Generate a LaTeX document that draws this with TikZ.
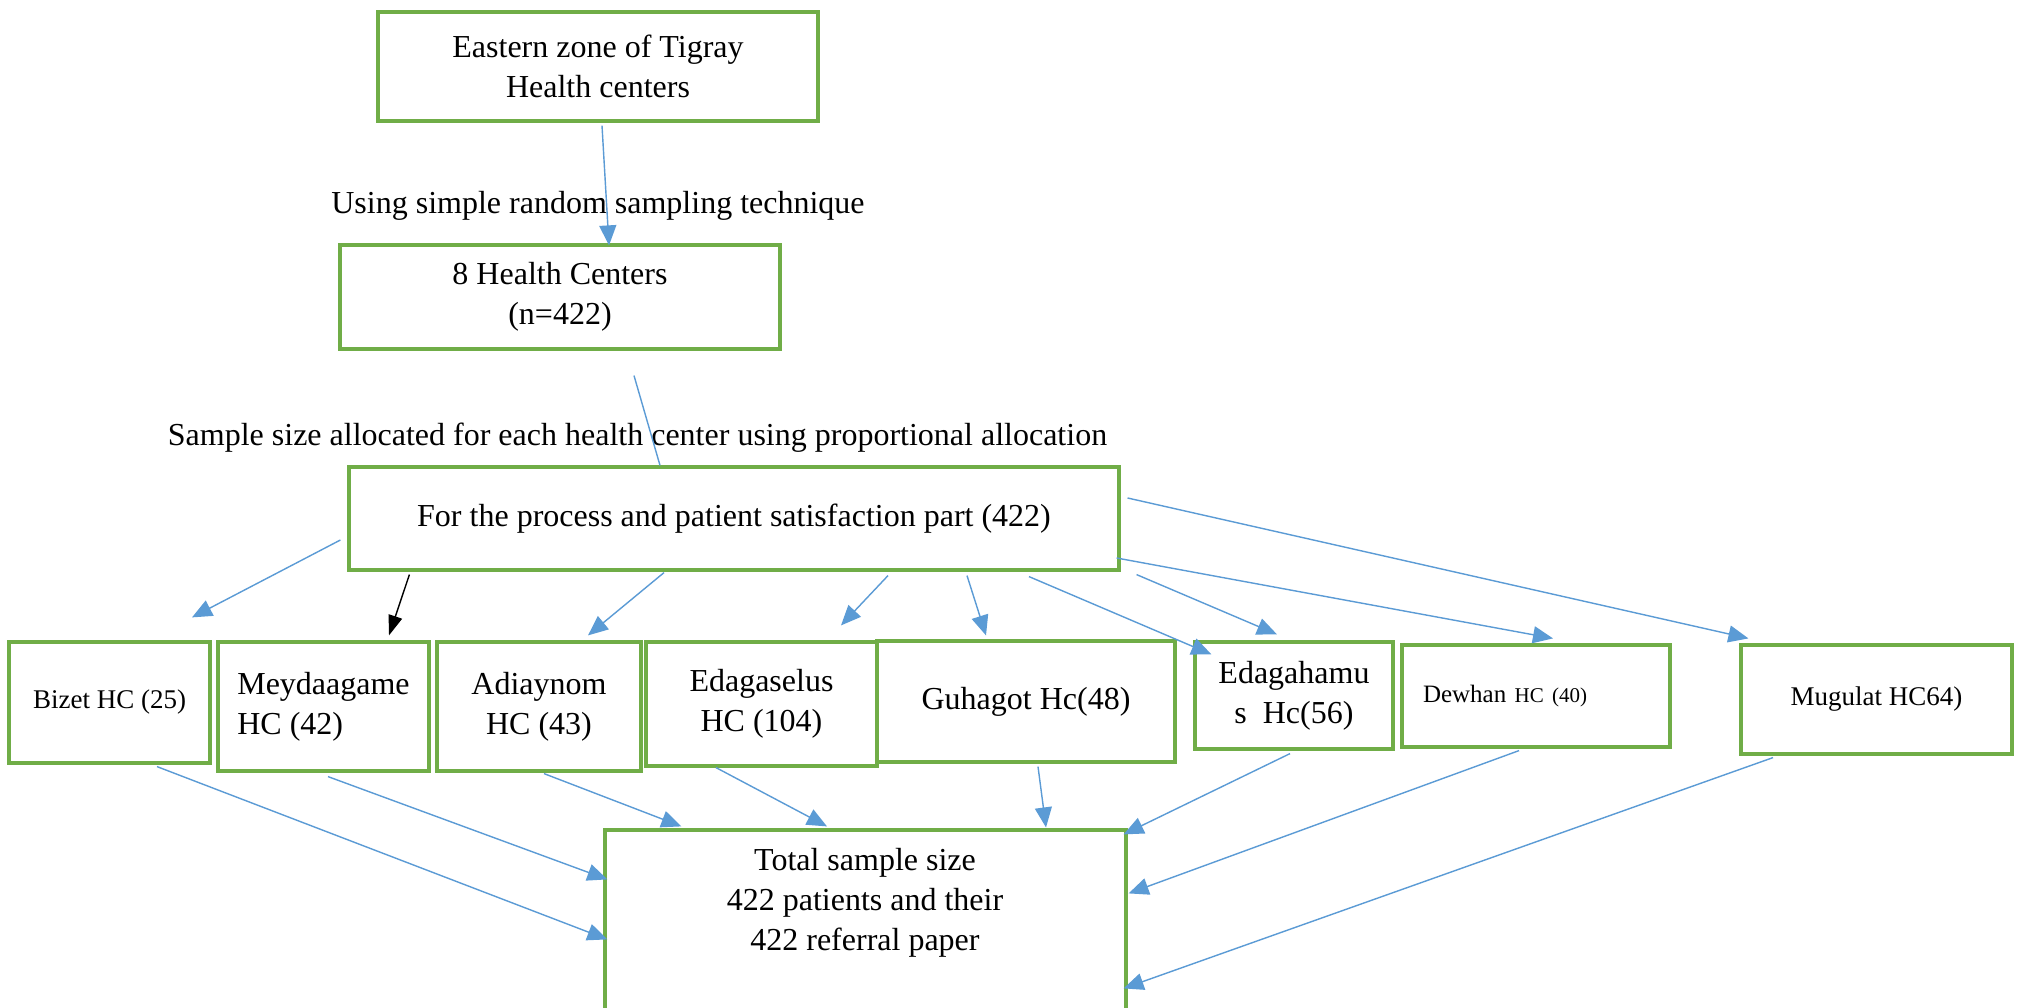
\documentclass[tikz,border=0pt]{standalone}
\usepackage{fontspec}
\setmainfont{Liberation Serif}
\usetikzlibrary{arrows.meta,calc}
\definecolor{boxgreen}{HTML}{70AD47}
\definecolor{arrowblue}{HTML}{5B9BD5}
\begin{document}
\begin{tikzpicture}[x=1pt,y=-1pt,
  box/.style={draw=boxgreen,line width=3.2pt,inner sep=0pt,align=center,font=\fontsize{32}{40}\selectfont},
  lbl/.style={inner sep=0pt,font=\fontsize{32}{40}\selectfont},
  arr/.style={draw=arrowblue,line width=1.4pt,-{Triangle[length=20pt,width=17pt]},fill=arrowblue},
  plain/.style={draw=arrowblue,line width=1.4pt},
  blk/.style={draw=black,line width=1.4pt,-{Triangle[length=20pt,width=14pt]}}]
\clip (0,0) rectangle (2022,1008);
\fill[white] (0,0) rectangle (2022,1008);

% boxes
\node[box,minimum width=440pt,minimum height=109pt] (top) at (598,66.5) {Eastern zone of Tigray\\Health centers};
\node[lbl] (lab1) at (598,206) {Using simple random sampling technique};
\node[box,minimum width=440pt,minimum height=104pt] (hc8) at (560,297) {8 Health Centers\\(n=422)};
\node[lbl] (lab2) at (637.5,438) {Sample size allocated for each health center using proportional allocation};
\node[box,minimum width=770pt,minimum height=103pt] (proc) at (734,518.5) {For the process and patient satisfaction part (422)};

\node[box,minimum width=201pt,minimum height=121pt,font=\fontsize{27}{34}\selectfont] (bizet) at (109.5,702.5) {Bizet HC (25)};
\node[box,minimum width=211pt,minimum height=129pt,align=left] (mey) at (323.5,706.5) {Meydaagame\\HC (42)};
\node[box,minimum width=204pt,minimum height=129pt] (adi) at (539,706.5) {Adiaynom\\HC (43)};
\node[box,minimum width=231pt,minimum height=124pt] (edas) at (761.5,704) {Edagaselus\\HC (104)};
\node[box,minimum width=298pt,minimum height=121pt] (guh) at (1026,701.5) {Guhagot Hc(48)};
\node[box,minimum width=198pt,minimum height=107pt] (edah) at (1294,695.5) {Edagahamu\\s~~Hc(56)};
\node[box,minimum width=268pt,minimum height=102pt,text width=226pt,align=left,font=\fontsize{25}{30}\selectfont] (dew) at (1536,696) {Dewhan \fontsize{21}{30}\selectfont HC~(40)};
\node[box,minimum width=271pt,minimum height=109pt,font=\fontsize{27}{34}\selectfont] (mug) at (1876.5,699.5) {Mugulat HC64)};

\node[box,minimum width=521pt,minimum height=200pt] (total) at (865.5,930) {};
\node[lbl,align=center] (totaltxt) at (865,903) {Total sample size\\422 patients and their\\422 referral paper};

% connectors top part
\draw[arr] ([shift={(4,3)}]top.south) -- ([shift={(49,2)}]hc8.north);
\draw[plain] ([shift={(74,25)}]hc8.south) -- ([shift={(-74,0)}]proc.north);

% proc to health centers
\draw[arr] ([shift={(-7,21.5)}]proc.west) -- ([shift={(82.5,-23)}]bizet.north);
\draw[blk] ([shift={(62,3)}]proc.south west) -- ([shift={(65.5,-5)}]mey.north);
\draw[arr] ([shift={(-70,1)}]proc.south) -- ([shift={(49,-5)}]adi.north);
\draw[arr] ([shift={(154,4)}]proc.south) -- ([shift={(79.5,-15)}]edas.north);
\draw[arr] ([shift={(233,4)}]proc.south) -- ([shift={(-40,-4)}]guh.north);
\draw[arr] ([shift={(295,5)}]proc.south) -- ([shift={(18,14)}]edah.north west);
\draw[arr] ([shift={(16,3)}]proc.south east) -- ([shift={(-17,-6)}]edah.north);
\draw[arr] ([shift={(-4,39.5)}]proc.east) -- ([shift={(17,-5)}]dew.north);
\draw[arr] ([shift={(7,-20.5)}]proc.east) -- ([shift={(9,-5)}]mug.north west);

% health centers to total
\draw[arr] ([shift={(47.5,2)}]bizet.south) -- ([shift={(4,111)}]total.north west);
\draw[arr] ([shift={(4.5,4)}]mey.south) -- ([shift={(4,51)}]total.north west);
\draw[arr] ([shift={(5,1)}]adi.south) -- ([shift={(78,-2)}]total.north west);
\draw[arr] ([shift={(-45.5,0)}]edas.south) -- ([shift={(-38.5,-2)}]total.north);
\draw[arr] ([shift={(12,3)}]guh.south) -- ([shift={(180.5,-1)}]total.north);
\draw[arr] ([shift={(-4,3)}]edah.south) -- ([shift={(-4,6)}]total.north east);
\draw[arr] ([shift={(-17,2)}]dew.south) -- ([shift={(1,65)}]total.north east);
\draw[arr] ([shift={(-103.5,2)}]mug.south) -- ([shift={(-4,160)}]total.north east);
\end{tikzpicture}
\end{document}
